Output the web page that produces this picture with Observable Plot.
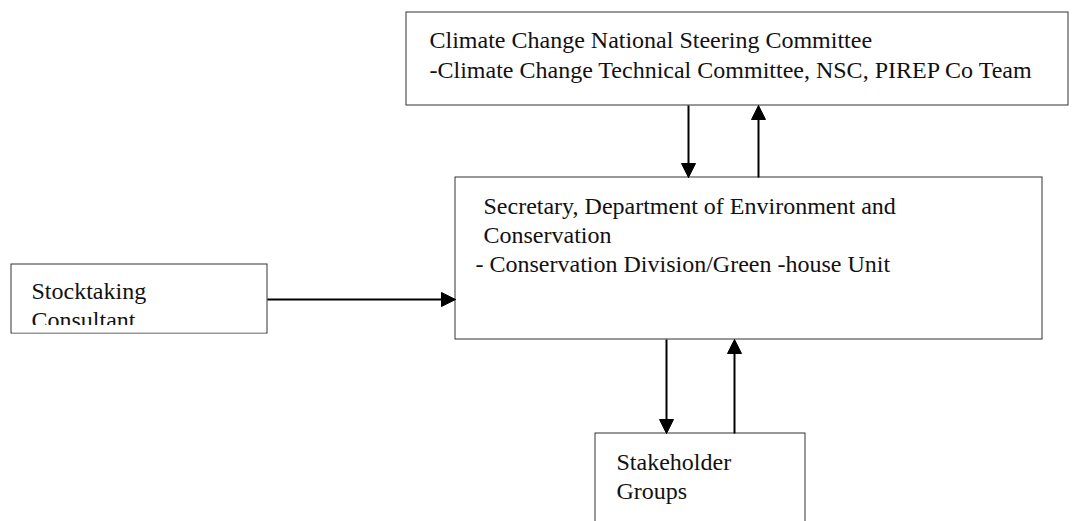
<!DOCTYPE html>
<html>
<head>
<meta charset="utf-8">
<script src="https://cdn.jsdelivr.net/npm/d3@7"></script>
<script src="https://cdn.jsdelivr.net/npm/@observablehq/plot@0.6"></script>
<style>
  html, body { margin: 0; padding: 0; background: #fff; }
  #chart svg { display: block; }
</style>
</head>
<body>
<div id="chart"></div>
<script>
// Boxes of the diagram
const boxNames = ["Steering", "Secretary", "Stocktaking", "Stakeholder"];
const boxX1 = [406, 455, 11, 595];
const boxX2 = [1068, 1042, 267, 805];
const boxY1 = [12, 177, 264, 433];
const boxY2 = [105, 339, 333, 530];

// Text lines
const lineTexts = [
  "Climate Change National Steering Committee",
  "-Climate Change Technical Committee, NSC, PIREP Co Team",
  "Secretary, Department of Environment and",
  "Conservation",
  "- Conservation Division/Green -house Unit",
  "Stocktaking",
  "Consultant",
  "Stakeholder",
  "Groups"
];
const lineX = [429, 429, 483, 483, 475, 31, 31, 616, 616];
const lineBaseline = [47, 77, 213, 242, 271, 298, 327, 469, 498];

// Arrows (from -> to)
const arrowX1 = [688, 758, 267, 666, 734];
const arrowY1 = [105, 177, 299, 339, 433];
const arrowX2 = [688, 758, 455, 666, 734];
const arrowY2 = [177, 105, 299, 433, 339];

const fontSize = 24;
const boxes = boxNames.map((name, i) => ({name, x1: boxX1[i], x2: boxX2[i], y1: boxY1[i], y2: boxY2[i]}));
const lines = lineTexts.map((t, i) => ({text: t, x: lineX[i], y: lineBaseline[i] - 0.32 * fontSize}));
const headLen = 14, headHalf = 7;
const arrows = arrowX1.map((x1, i) => {
  const x2 = arrowX2[i], y2 = arrowY2[i], y1 = arrowY1[i];
  const dx = x2 - x1, dy = y2 - y1, L = Math.hypot(dx, dy);
  const ux = dx / L, uy = dy / L;
  return {x1, y1, x2: x2 - ux * headLen * 0.6, y2: y2 - uy * headLen * 0.6, tx: x2, ty: y2, ux, uy};
});
const heads = arrows.flatMap((a, i) => {
  const bx = a.tx - a.ux * headLen, by = a.ty - a.uy * headLen;
  const px = -a.uy, py = a.ux;
  return [
    {id: i, x: a.tx, y: a.ty},
    {id: i, x: bx + px * headHalf, y: by + py * headHalf},
    {id: i, x: bx - px * headHalf, y: by - py * headHalf},
    {id: i, x: a.tx, y: a.ty}
  ];
});
// White mask that clips the overflowing "Consultant" line inside its box
const masks = [{x1: boxX1[2] + 1, x2: boxX2[2] - 1, y1: 325, y2: boxY2[2] - 0.5}];

const chart = Plot.plot({
  width: 1075,
  height: 521,
  margin: 0,
  x: {domain: [0, 1075], axis: null},
  y: {domain: [0, 521], reverse: true, axis: null},
  style: {background: "#fff", fontFamily: "'Liberation Serif', 'Times New Roman', serif"},
  marks: [
    Plot.rect(boxes, {x1: "x1", x2: "x2", y1: "y1", y2: "y2", fill: "white", stroke: "#333", strokeWidth: 1}),
    Plot.text(lines, {x: "x", y: "y", text: "text", textAnchor: "start", fontSize, fill: "#111"}),
    Plot.rect(masks, {x1: "x1", x2: "x2", y1: "y1", y2: "y2", fill: "white"}),
    Plot.link(arrows, {x1: "x1", y1: "y1", x2: "x2", y2: "y2", stroke: "black", strokeWidth: 2}),
    Plot.line(heads, {x: "x", y: "y", z: "id", fill: "black", stroke: "black", strokeWidth: 1, curve: "linear"})
  ]
});
document.getElementById("chart").append(chart);
</script>
</body>
</html>
